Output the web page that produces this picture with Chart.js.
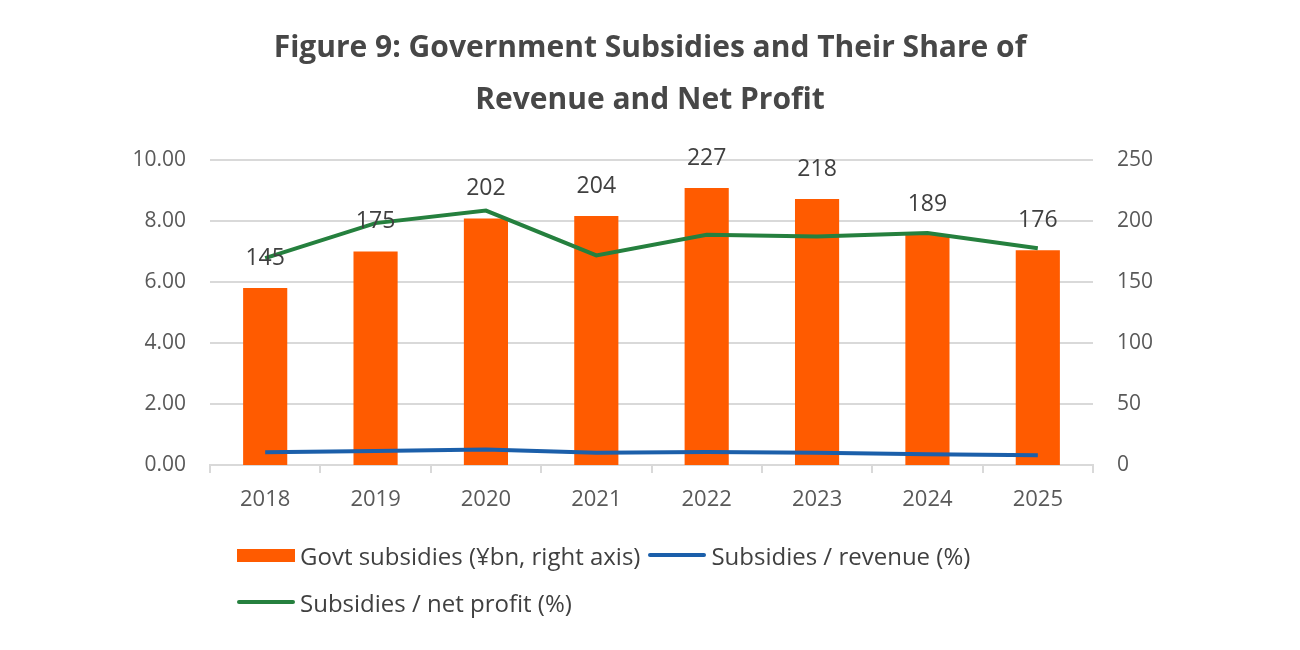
<!DOCTYPE html>
<html>
<head>
<meta charset="utf-8">
<script src="https://cdn.jsdelivr.net/npm/chart.js@4.4.0/dist/chart.umd.min.js"></script>
<style>
  html, body { margin:0; padding:0; background:#fff; }
  #wrap { position:relative; width:1300px; height:650px; }
  #legend { position:absolute; left:237px; top:535px; width:950px; font-family:"Open Sans", sans-serif; font-size:24px; color:#404040; }
  .row { display:flex; align-items:center; height:40px; margin-bottom:7px; }
  .item { display:flex; align-items:center; margin-right:8px; white-space:nowrap; }
  .sw { display:inline-block; width:58px; margin-right:5px; }
</style>
</head>
<body>
<div id="wrap">
  <canvas id="c" width="1300" height="650"></canvas>
  <div id="legend"></div>
</div>
<script>
const categories = ['2018','2019','2020','2021','2022','2023','2024','2025'];
const subsidiesBn = [145, 175, 202, 204, 227, 218, 189, 176];
const shareRevenue = [0.42, 0.46, 0.51, 0.40, 0.43, 0.40, 0.35, 0.32];
const shareNetProfit = [6.78, 7.93, 8.34, 6.87, 7.55, 7.49, 7.61, 7.11];
const leftTicks = [0, 2, 4, 6, 8, 10];
const rightTicks = [0, 50, 100, 150, 200, 250];

const ORANGE = '#FF5B00', BLUE = '#1B5FAA', GREEN = '#25803E';
const FONT = '"Open Sans", sans-serif';

const barLabels = {
  id: 'barLabels',
  afterDatasetsDraw(chart) {
    const ctx = chart.ctx;
    const meta = chart.getDatasetMeta(2);
    ctx.save();
    ctx.font = '23px ' + FONT;
    ctx.fillStyle = '#404040';
    ctx.textAlign = 'center';
    ctx.textBaseline = 'middle';
    meta.data.forEach((el, i) => {
      ctx.fillText(String(subsidiesBn[i]), el.x, el.y - 30);
    });
    ctx.restore();
  }
};

const chart = new Chart(document.getElementById('c'), {
  data: {
    labels: categories,
    datasets: [
      { type:'line', label:'Subsidies / revenue (%)', data: shareRevenue, yAxisID:'y', borderColor: BLUE, backgroundColor: BLUE, borderWidth:4, pointRadius:0, tension:0, order:1 },
      { type:'line', label:'Subsidies / net profit (%)', data: shareNetProfit, yAxisID:'y', borderColor: GREEN, backgroundColor: GREEN, borderWidth:4, pointRadius:0, tension:0, order:1 },
      { type:'bar', label:'Govt subsidies (¥bn, right axis)', data: subsidiesBn, yAxisID:'y1', backgroundColor: ORANGE, barPercentage:0.4, categoryPercentage:1.0, order:2 }
    ]
  },
  options: {
    responsive:false,
    animation:false,
    layout: { padding: { top:0, bottom:125, left:0, right:0 } },
    plugins: {
      legend: { display:false },
      tooltip: { enabled:false },
      title: {
        display:true,
        text: ['Figure 9: Government Subsidies and Their Share of', 'Revenue and Net Profit'],
        color:'#474747',
        font: { family: FONT, size:30, weight:'bold', lineHeight: 52/30 },
        padding: { top:22, bottom:34 }
      }
    },
    scales: {
      x: {
        offset:true,
        grid: { display:true, drawOnChartArea:false, offset:true, tickLength:8, color:'#d9d9d9', lineWidth:2 },
        border: { display:true, color:'#d9d9d9', width:2 },
        ticks: { color:'#595959', font:{ family:FONT, size:22 }, padding:14 },
        afterFit(s){ s.height = 60; }
      },
      y: {
        position:'left', min:0, max:10,
        afterBuildTicks(s){ s.ticks = leftTicks.map(v => ({ value:v })); },
        ticks: { color:'#595959', font:{ family:FONT, size:21 }, padding:24, callback: v => v.toFixed(2) },
        grid: { color:'#d9d9d9', lineWidth:2, drawTicks:false },
        border: { display:false },
        afterFit(s){ s.width = 210; }
      },
      y1: {
        position:'right', min:0, max:250,
        afterBuildTicks(s){ s.ticks = rightTicks.map(v => ({ value:v })); },
        ticks: { color:'#595959', font:{ family:FONT, size:21 }, padding:24 },
        grid: { display:false, drawTicks:false },
        border: { display:false },
        afterFit(s){ s.width = 207; }
      }
    }
  },
  plugins: [barLabels]
});

// HTML legend built from the chart's datasets
const lg = document.getElementById('legend');
const ds = chart.data.datasets;
const rows = [[ds[2], ds[0]], [ds[1]]];
rows.forEach(r => {
  const row = document.createElement('div'); row.className = 'row';
  r.forEach(d => {
    const it = document.createElement('div'); it.className = 'item';
    const sw = document.createElement('span'); sw.className = 'sw';
    if (d.type === 'bar') { sw.style.height = '13px'; sw.style.background = d.backgroundColor; }
    else { sw.style.height = '4px'; sw.style.background = d.borderColor; sw.style.borderRadius = '2px'; }
    const tx = document.createElement('span'); tx.textContent = d.label;
    it.appendChild(sw); it.appendChild(tx); row.appendChild(it);
  });
  lg.appendChild(row);
});
</script>
</body>
</html>
